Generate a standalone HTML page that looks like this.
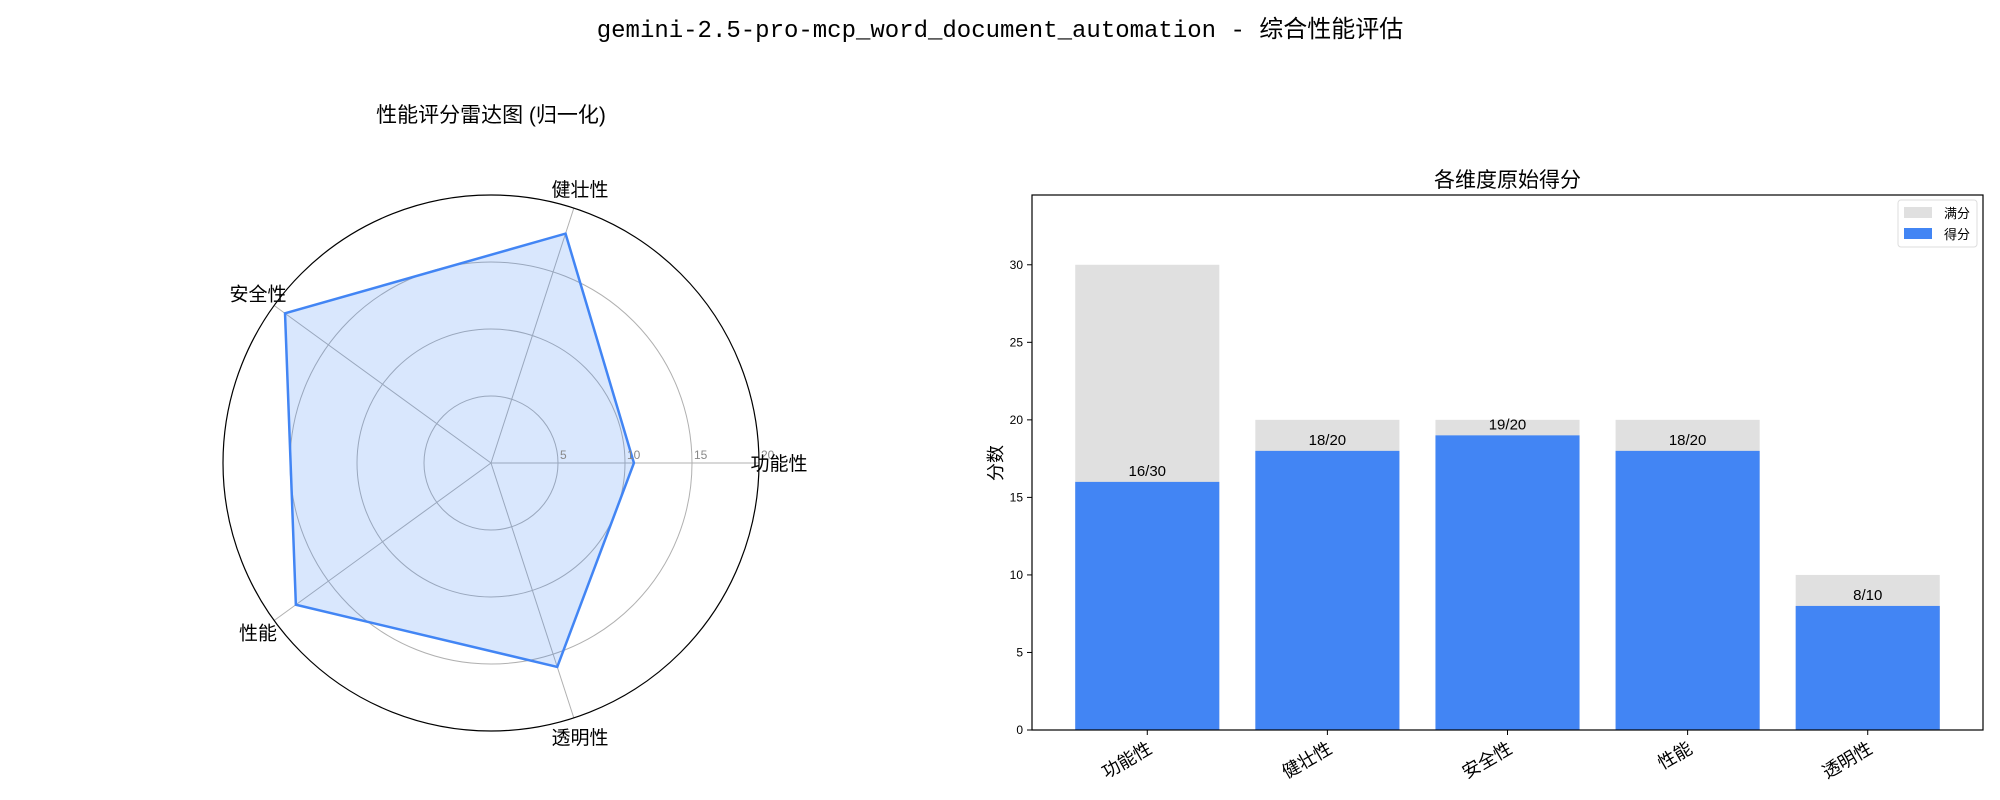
<!DOCTYPE html>
<html><head><meta charset="utf-8">
<style>
html,body{margin:0;padding:0;background:#fff;}
svg{display:block;font-family:"Liberation Sans","Noto Sans CJK SC",sans-serif;}
</style></head>
<body>
<svg id="chart" width="2000" height="800" viewBox="0 0 2000 800" xmlns="http://www.w3.org/2000/svg">
<text x="1000" y="37" text-anchor="middle" font-size="24" font-family="Liberation Mono, Noto Sans CJK SC, monospace">gemini-2.5-pro-mcp_word_document_automation - 综合性能评估</text>
<g id="radar"></g>
<g id="bars"></g>
</svg>
<script>
const categories = ["功能性","健壮性","安全性","性能","透明性"];
const scores = [16, 18, 19, 18, 8];
const maxScores = [30, 20, 20, 20, 10];
const radarTicks = [5, 10, 15, 20];
const barTicks = [0, 5, 10, 15, 20, 25, 30];

const NS = "http://www.w3.org/2000/svg";
function mk(tag, attrs, parent, text){
  const e = document.createElementNS(NS, tag);
  for (const k in attrs) e.setAttribute(k, attrs[k]);
  if (text !== undefined) e.textContent = text;
  parent.appendChild(e);
  return e;
}

// ---------- Radar ----------
const radar = document.getElementById('radar');
const cx = 491, cy = 463, R = 268, rMax = 20;
const rScale = v => v / rMax * R;
const ang = i => i * 2 * Math.PI / categories.length;
const pt = (i, v) => [cx + rScale(v) * Math.cos(ang(i)), cy - rScale(v) * Math.sin(ang(i))];

let t = mk('text', {x: 491, y: 122, 'text-anchor': 'middle', 'font-size': 21}, radar, '性能评分雷达图 (归一化)');



radarTicks.slice(0, -1).forEach(v => {
  const c = mk('circle', {cx, cy, r: rScale(v), fill: 'none', stroke: '#b0b0b0', 'stroke-width': 1}, radar);
  
  
});
categories.forEach((c, i) => {
  const [x, y] = pt(i, rMax);
  const l = mk('line', {x1: cx, y1: cy, x2: x, y2: y, stroke: '#b0b0b0', 'stroke-width': 1}, radar);
  
  
});
const normalized = scores.map((s, i) => s / maxScores[i] * rMax);
const poly = normalized.map((v, i) => pt(i, v).join(',')).join(' ');
const area = mk('polygon', {points: poly, fill: 'rgba(66,133,244,0.2)', stroke: '#4285F4', 'stroke-width': 2.5, 'stroke-linejoin': 'miter'}, radar);


const outer = mk('circle', {cx, cy, r: R, fill: 'none', stroke: '#000', 'stroke-width': 1.2}, radar);


radarTicks.forEach(v => {
  const tk = mk('text', {x: cx + rScale(v) + 2, y: cy - 4, 'font-size': 12, fill: '#888'}, radar, String(v));
  
  
});
categories.forEach((c, i) => {
  const a = ang(i), rr = R + 20;
  const x = cx + rr * Math.cos(a), y = cy - rr * Math.sin(a);
  const lb = mk('text', {x: x, y: y + 7, 'text-anchor': 'middle', 'font-size': 19}, radar, c);
  
  
});

// ---------- Bars ----------
const bars = document.getElementById('bars');
const L = 1032, Rt = 1983, T = 195, B = 730;
const xMin = -0.64, xMax = 4.64, yMax = 34.5;
const xS = v => L + (v - xMin) / (xMax - xMin) * (Rt - L);
const yS = v => B - v / yMax * (B - T);
const bw = 0.8;

t = mk('text', {x: (L + Rt) / 2, y: 187, 'text-anchor': 'middle', 'font-size': 21}, bars, '各维度原始得分');



categories.forEach((c, i) => {
  const x0 = xS(i - bw / 2), w = xS(i + bw / 2) - x0;
  const g = mk('rect', {x: x0, y: yS(maxScores[i]), width: w, height: B - yS(maxScores[i]), fill: '#e0e0e0'}, bars);
  
  
  const b = mk('rect', {x: x0, y: yS(scores[i]), width: w, height: B - yS(scores[i]), fill: '#4285F4'}, bars);
  
  
  const v = mk('text', {x: xS(i), y: yS(scores[i]) - 6, 'text-anchor': 'middle', 'font-size': 15}, bars, scores[i] + '/' + maxScores[i]);
  
  
  const tk = mk('line', {x1: xS(i), y1: B, x2: xS(i), y2: B + 5, stroke: '#000'}, bars);
  
  
  const xl = mk('text', {x: xS(i) + 6, y: B + 22, 'text-anchor': 'end', 'font-size': 18, transform: `rotate(-30 ${xS(i) + 6} ${B + 22})`}, bars, c);
  
  
});
barTicks.forEach(v => {
  const tk = mk('line', {x1: L - 5, y1: yS(v), x2: L, y2: yS(v), stroke: '#000'}, bars);
  
  
  const tl = mk('text', {x: L - 9, y: yS(v) + 4, 'text-anchor': 'end', 'font-size': 12}, bars, String(v));
  
  
});
const frame = mk('rect', {x: L, y: T, width: Rt - L, height: B - T, fill: 'none', stroke: '#000', 'stroke-width': 1.2}, bars);


const yl = mk('text', {x: 1002, y: 463, 'text-anchor': 'middle', 'font-size': 18, transform: 'rotate(-90 1002 463)'}, bars, '分数');



// legend
const lg = mk('g', {}, bars);


mk('rect', {x: 1898, y: 200, width: 79, height: 47, rx: 3, fill: '#fff', stroke: '#ddd'}, lg);
const e1 = mk('rect', {x: 1904, y: 207, width: 28, height: 11, fill: '#e0e0e0'}, lg);


const l1 = mk('text', {x: 1944, y: 218, 'font-size': 13}, lg, '满分');


const e2 = mk('rect', {x: 1904, y: 228, width: 28, height: 11, fill: '#4285F4'}, lg);


const l2 = mk('text', {x: 1944, y: 239, 'font-size': 13}, lg, '得分');


</script>
</body></html>
